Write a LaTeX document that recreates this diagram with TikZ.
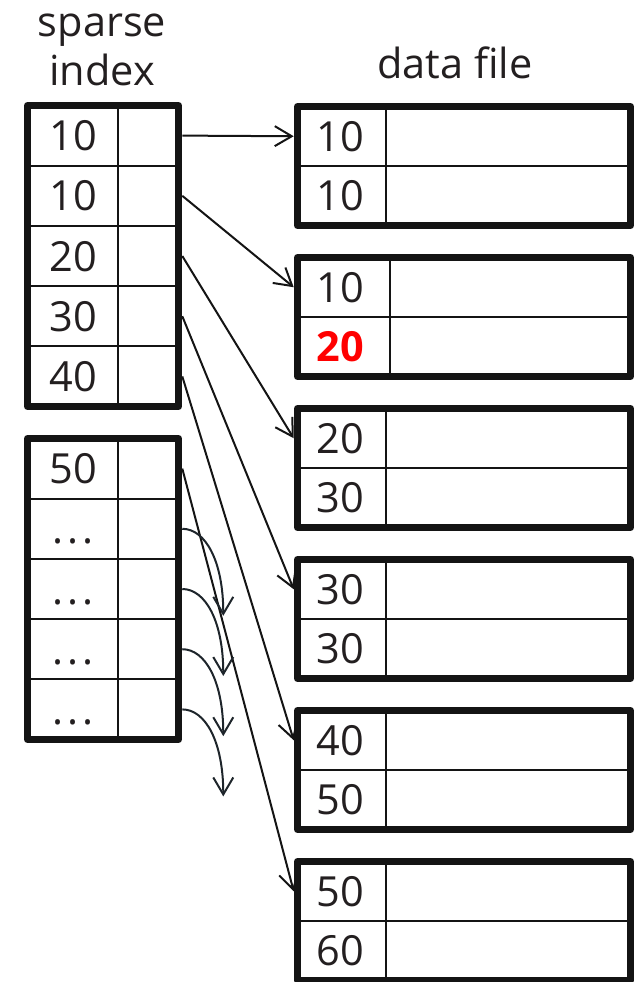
\documentclass[tikz,border=0pt]{standalone}
\usepackage{fontspec}
\setmainfont{Open Sans}
\usetikzlibrary{arrows.meta,positioning}
\definecolor{ink}{HTML}{141414}
\definecolor{txt}{HTML}{231F20}
\definecolor{curvink}{HTML}{1E252B}
\definecolor{hilite}{HTML}{FF0000}
\newcommand{\hot}[1]{\textbf{\color{hilite}#1}}
\newcommand{\elide}{.\kern1.1mm.\kern1.1mm.}
\tikzset{
  frame/.style={draw=ink,line width=1.75mm,line join=round},
  gridline/.style={draw=ink,line width=0.45mm},
  keycell/.style={inner sep=0pt,text height=7.5mm,text depth=0pt,
                  font=\fontsize{29.5}{35}\selectfont,text=txt},
  datakey/.style={keycell,minimum width=23mm,minimum height=14.75mm},
  ptrcell/.style={inner sep=0pt,minimum width=16mm,minimum height=15mm},
  title/.style={align=center,inner sep=0pt,text=txt,
                font=\fontsize{29.5}{35}\selectfont},
  ptr/.style={-{Straight Barb[length=4.25mm,width=5mm]},line width=0.5mm,color=ink},
  loose/.style={-{Straight Barb[length=4.25mm,width=5mm]},line width=0.5mm,color=curvink}
}
\begin{document}
\begin{tikzpicture}[x=0.25mm,y=-0.25mm]
  \useasboundingbox (0,0) rectangle (634,982);

  % headings
  \node[title,anchor=base] (sparse) at (102,86) {sparse\\index};
  \node[title,anchor=base] (datafile) at (455,79) {data file};

  % sparse index, first page
  \foreach \r in {1,...,4}
    \draw[gridline] (27.5,105.5+60.2*\r) -- (178.5,105.5+60.2*\r);
  \draw[gridline] (118,105.5) -- (118,406.5);
  \draw[frame] (27.5,105.5) rectangle (178.5,406.5);
  \foreach \r/\k in {1/10,2/10,3/20,4/30,5/40}{
    \node[keycell] (k1-\r) at (73,75.4+60.2*\r) {\k};
    \node[ptrcell] (p1-\r) at (150,75.4+60.2*\r) {};
  }

  % sparse index, second page
  \foreach \r in {1,...,4}
    \draw[gridline] (27.5,438.5+60.2*\r) -- (178.5,438.5+60.2*\r);
  \draw[gridline] (118,438.5) -- (118,739.5);
  \draw[frame] (27.5,438.5) rectangle (178.5,739.5);
  \foreach \r/\k in {1/50,2/\elide,3/\elide,4/\elide,5/\elide}{
    \node[keycell] (k2-\r) at (73,408.4+60.2*\r) {\k};
    \node[ptrcell] (p2-\r) at (150,408.4+60.2*\r) {};
  }

  % data file blocks
  \foreach \b/\ka/\kb/\dv in {1/10/10/386,2/10/{\hot{20}}/390,3/20/30/386,
                              4/30/30/386,5/40/50/386,6/50/60/386}{
    \pgfmathsetmacro{\T}{103+151*(\b-1)}
    \draw[gridline] (297.5,\T+63) -- (630.5,\T+63);
    \draw[gridline] (\dv,\T+3.5) -- (\dv,\T+122.5);
    \draw[frame] (297.5,\T+3.5) rectangle (630.5,\T+122.5);
    \node[datakey] (d\b-1) at (340,\T+33.25) {\ka};
    \node[datakey] (d\b-2) at (340,\T+92.75) {\kb};
  }

  % pointers
  \draw[ptr] (p1-1.east) -- (d1-1.west);
  \draw[ptr] (p1-2.east) -- (d2-1.west);
  \draw[ptr] (p1-3.east) -- (d3-1.west);
  \draw[ptr] (p1-4.east) -- (d4-1.west);
  \draw[ptr] (p1-5.east) -- (d5-1.west);
  \draw[ptr] (p2-1.east) -- (d6-1.west);

  % dangling pointers of the second index page
  \foreach \r in {2,...,5}{
    \path (p2-\r.east) ++(41,87) coordinate (q\r);
    \draw[loose] (p2-\r.east) .. controls +(23,0) and +(0,-55) .. (q\r);
  }
\end{tikzpicture}
\end{document}
